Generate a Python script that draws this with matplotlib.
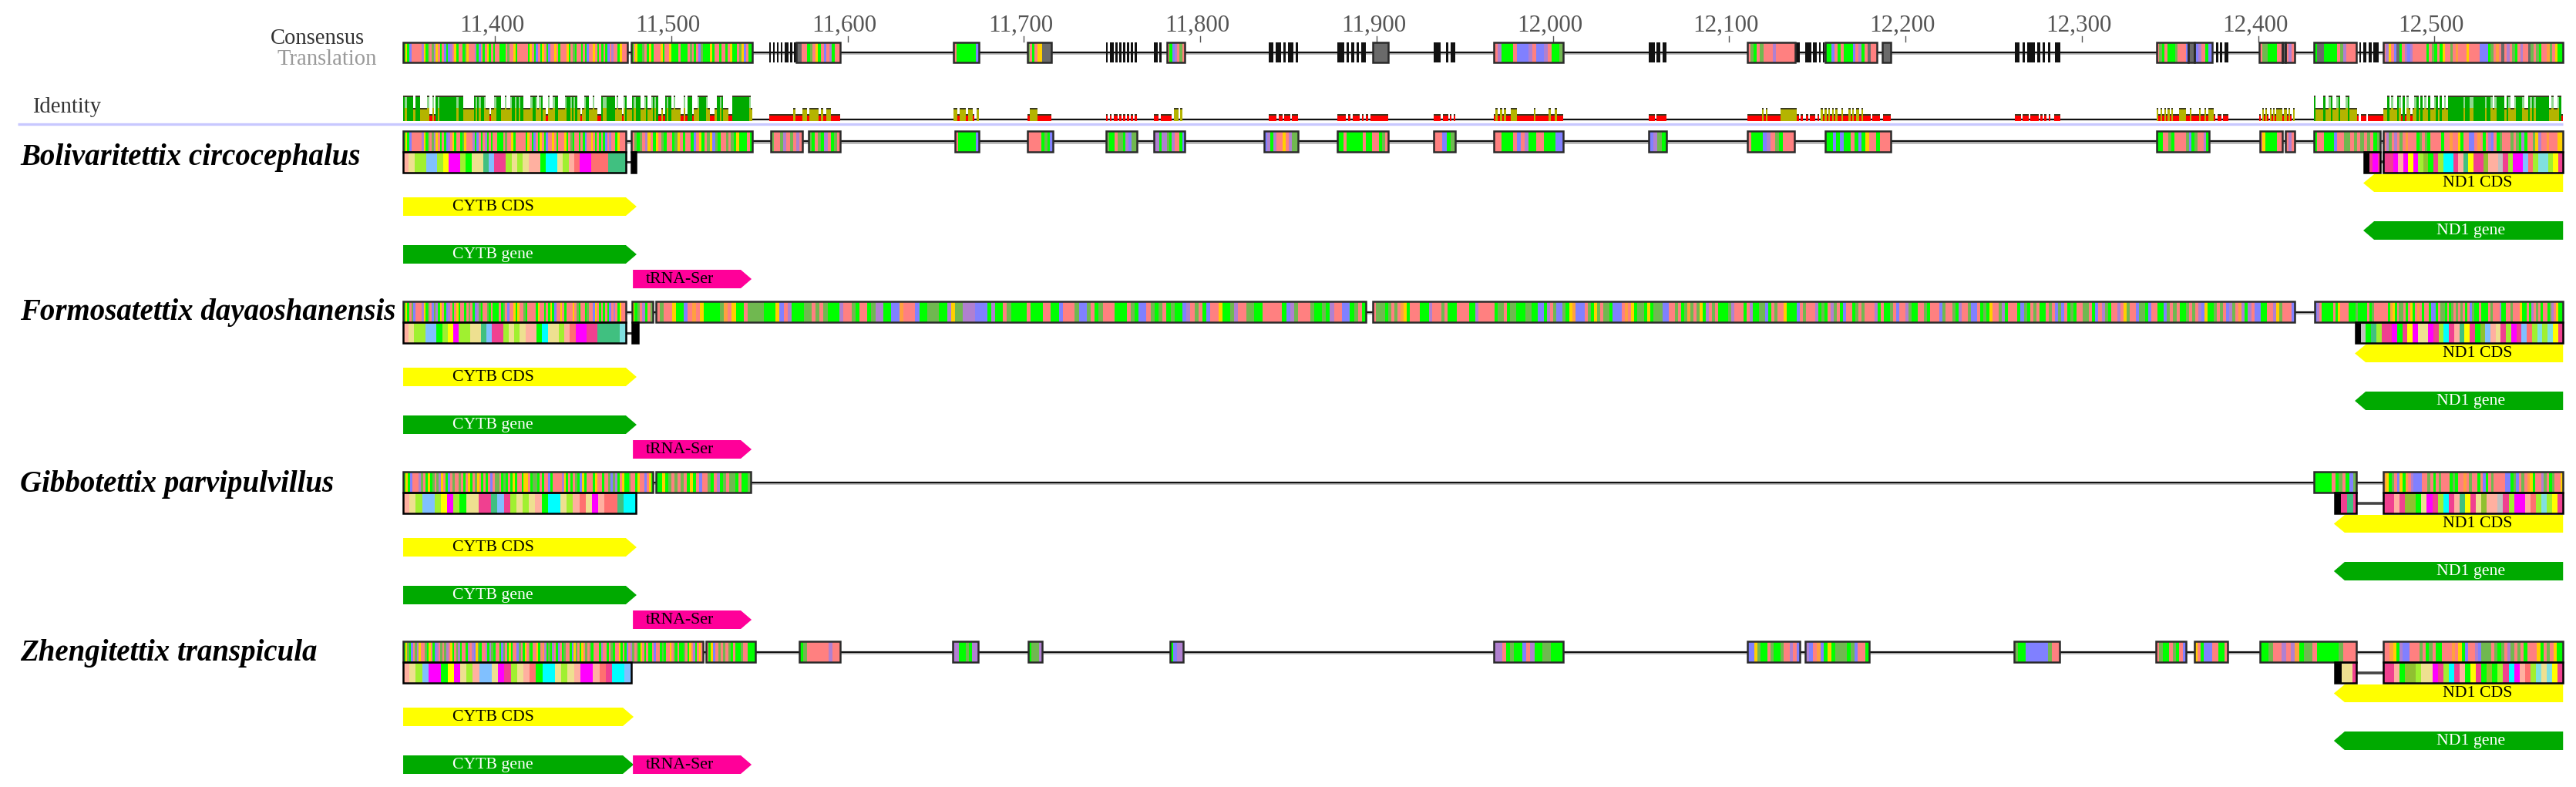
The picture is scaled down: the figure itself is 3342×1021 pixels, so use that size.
import matplotlib
matplotlib.use('Agg')
import matplotlib.pyplot as plt
from matplotlib.patches import Polygon, Rectangle

plt.rcParams['font.family'] = ['Liberation Serif', 'DejaVu Serif']

# ---- data: alignment positions (bp) and base strings ----
tick_positions = [11400, 11500, 11600, 11700, 11800, 11900, 12000, 12100, 12200, 12300, 12400, 12500]
tick_labels = ['11,400', '11,500', '11,600', '11,700', '11,800', '11,900',
               '12,000', '12,100', '12,200', '12,300', '12,400', '12,500']
species = ['Bolivaritettix circocephalus', 'Formosatettix dayaoshanensis',
           'Gibbotettix parvipulvillus', 'Zhengitettix transpicula']

# (start, end, bases) a=salmon c=blue g=yellow t=green o=olive p=purple r=orange n=grey k=black .=gap
consensus = [
    (11348, 11475.4, 'tgtcaaaaapgtoaopgatactcpagtaatogaaaptcatagtataatttaoaagtaaaaatgatcatgatcaagataaagtaotaatatcaagatatatcapaatgaaa'),
    (11477.2, 11546.2, 'tagttoatgtaaagtaagtttatttaoatacotttgtaataatagttaogcatt'),
    (11555.6, 11570.9, 'k.k.k.k.kk.k.k'),
    (11570.9, 11595.8, 'nnaatoagtacaptaa'),
    (11660.1, 11674.5, 'atttttttc'),
    (11702.1, 11715.8, 'oataggnnnn'),
    (11746.5, 11764.1, 'k.kk.k.k.k.k.k.k'),
    (11773.8, 11778.1, 'kk.k'),
    (11781.2, 11791.3, 'atcpaoa'),
    (11838.9, 11855.5, 'kk.kk.k.kk.k'),
    (11877.8, 11894, 'kkk.k.k.k.kk'),
    (11897.9, 11906.7, 'nnnnn'),
    (11932.5, 11944.7, 'kkk..k.kk'),
    (11966.4, 12005.9, 'aptttacccpaccpatto'),
    (12054.4, 12064.5, 'kkk.kk.kk'),
    (12110.4, 12137.3, 'aotaoaaapaaaaaa'),
    (12137.9, 12154.1, 'kk...kkk.kk.k.k'),
    (12154.6, 12183.8, 'ttcatatttcaptanaa'),
    (12186.9, 12191.7, 'nnn'),
    (12262, 12287.9, 'kk.k.kkk.k.k.k..kk'),
    (12342.5, 12360.4, 'aotatttoaaac'),
    (12360.4, 12363.9, 'nn'),
    (12363.9, 12374, 'cpatc'),
    (12376.2, 12383.2, 'k.k.kk'),
    (12400.7, 12413.8, 'aootttaa'),
    (12413.8, 12415.5, 'n'),
    (12415.5, 12420.8, 'apa'),
    (12431.7, 12455.8, 'tnnttttaopaaa'),
    (12457.5, 12468.6, 'k.kk.kk.kkk'),
    (12471, 12573, 'apgacntapcpaaaaataotatgaaoaraaagaaaaccctoaranapaotapaanoaotaaroagtt'),
]
row_a_nuc = [
    (11348, 11474.1, 'tgtcaaaaapgtoaopgatatcpagtaatogaaaptcataptataatttaoaagtaaaaatgatcatgatcaagataaagtaotaatatcaagatatatcapaatgaaa'),
    (11477.5, 11546.2, 'aotoapgatgaotaatogataatcagtaogcotaaoaotgtttat'),
    (11556.5, 11574.4, 'oaaopaoapa'),
    (11577.9, 11595.8, 'otaotpatoa'),
    (11661, 11674.5, 'attttttc'),
    (11702.1, 11716.5, 'aaaaatotc'),
    (11746.8, 11764.1, 'ottaootpcoo'),
    (11773.8, 11791.3, 'pptppotpaatc'),
    (11836.1, 11855.5, 'cptpaagapoo'),
    (11877.8, 11906.7, 'ttatttttattaatoa'),
    (11932.5, 11944.7, 'aacto'),
    (11966.4, 12005.9, 'aatttacapttaatttcc'),
    (12054.4, 12064.5, 'cpot'),
    (12110.4, 12137, 'atttcpaotaaa'),
    (12154.6, 12191.7, 'ttctcttatctgaataaa'),
    (12342.5, 12372.3, 'ttaaotaaaaoctoaapt'),
    (12400.9, 12413.8, 'agttttaa'),
    (12415.5, 12420.8, 'apa'),
    (12431.7, 12469.3, 'taatttcaaooaoaoaoato'),
    (12471, 12573, 'apoapaoaraaatoaotaaaataaraagtaaccaratapcatoaaaoaotptaaogpaaraaagg'),
]
row_b_nuc = [
    (11348, 11474.1, 'tgtaocaaapgtoacoptgatcpatagtaataoatcpotaaotatttatoacaagtgaaotaaaatgaatatgtcaagataaagaotaatoaacgatatatcapatgaa'),
    (11477.8, 11489.6, 'gtoaptao'),
    (11491.4, 11894, 'aoaagttcaragttttoragttaooootttgcaptttooaoaotttpaaotaatoppttccraaacttooottpgoopppccctpttaottttatttaattcaaaoccoatoaaatttaotccaotoatottcpaoatcaagttopaaoottaaaaatcpoaaaottotpaacctoat'),
    (11897.9, 12420.8, 'aoootoaoargtaaatttpaaaoatttaaaattpaaaaatooatootttoottcctpaoccotgrcccaotgoaootcccaragtootgtoooccaaoatoroaogtpaoatttopaaatapttooctaoaagtttcaoaaaptotapoatcaatoaoaaaptattoacaapottaaotaaacoaaotpaaoccatotgaaoptaaatcotaoattaoacocatotaaooatcapotaapagoaacootcaattcoaoattoaoapcgttoaoacpoarptpaccttaapgoaaac'),
    (12432.2, 12573, 'cpatttttatgaaaatttottttatoaaaaaatrgtaooatagtarataatcctaootatoaoaoatacottatttaoaaapttaaoaaagttatpaoataatopagtt'),
]
row_c_nuc = [
    (11348, 11489.8, 'tgtcaaapoatgtoaopgatcaoaaoatagtaogatatacaooatotatgtaatggatootataactaaaapgtataotcgtaaatgaataaocoptagttoaatgaacagt'),
    (11491.4, 11545.1, 'ttgtoaoaoatgtacaaotaptoaootatto'),
    (12431.7, 12455.8, 'tttttatoatco'),
    (12471, 12573, 'rgtoacgtrapcccaaoataoaaatotaaraoaatactaoaaaacctocaoargtaapoatoaag'),
]
row_d_nuc = [
    (11348, 11518, 'tgotcaopgaaotgatcpaoaopagtaoptaatpapcgotaaptpotaatcoatgtaacoatgaotaagtarptotpatcatoaatcgoatgaoaotaaatpaataotaagtatcapoaotgatattacaatotaagaotattoatgaptaga'),
    (11519.6, 11547.8, 'atgcaoaoaotattoaattt'),
    (11572.7, 11595.8, 'toaaaaaapaa'),
    (11659.7, 11674.1, 'ppttotpp'),
    (11702.5, 11710.4, 'toop'),
    (11783, 11790.4, 'tcpp'),
    (11966.6, 12005.7, 'ppatottcapttoottt'),
    (12110.4, 12140.1, 'ccgottaottoaapac'),
    (12143.2, 12179.5, 'pcarctgtoootocaat'),
    (12261.6, 12287.4, 'ottccccccoaa'),
    (12342, 12359.1, 'aottaotac'),
    (12363.9, 12382.7, 'gatcccaatta'),
    (12400.9, 12455.8, 'ttoaapaprtooatttttoaaa'),
    (12471, 12573, 'aargtpccaaaoatoattaaaragtcaapcoooaotoapoaoataaagtaoagtt'),
]

# amino acid strings, one letter per translated stripe
row_a_cytb = [(11348, 11474.1, 'SYLLBBLWMMLGYYTBPPLYLYSSGCCYLSRMMRRRTTT'), (11477.4, 11480, 'K')]
row_b_cytb = [(11348, 11474.1, 'SYLLBBGLWMLLYYTBPPLYLYSSGCYYLSRMMPPTTTTA'), (11477.8, 11481.3, 'K')]
row_c_cytb = [(11348, 11480, 'SYLBBLWMLGYYPPTBPLYLYSGCCYLSRYMSRRTCC')]
row_d_cytb = [(11348, 11477.2, 'SYLBMMGWMYLSBBYMPLYSRGCCYLYSMMSRPCCB')]
row_a_nd1 = [(12460.1, 12469.3, 'KKPMMP'), (12471, 12573, 'PPMSMWMLOGPLCCPSTWPPOSSNPLMMBRLAALWP')]
row_b_nd1 = [(12455.3, 12573, 'KNGTLPPMGPWMYYMPLCPSTWPGOBSYPLMPBRLALAWP')]
row_c_nd1 = [(12443.5, 12455.8, 'KKPPTTP'), (12471, 12573, 'PPSPOOGYMPLCPSTWPYOSSNPLMMSRLALWP')]
row_d_nd1 = [(12443.5, 12455.8, 'KKYYYP'), (12471, 12573, 'PPSGOOLYYMPLCPSGWPGOGLPCMSRLAYAWP')]

nuc_tracks = [row_a_nuc, row_b_nuc, row_c_nuc, row_d_nuc]
cytb_tracks = [row_a_cytb, row_b_cytb, row_c_cytb, row_d_cytb]
nd1_tracks = [row_a_nd1, row_b_nd1, row_c_nd1, row_d_nd1]

cytb_cds_end = [11480.4, 11480.4, 11480.4, 11478.7]
nd1_tip = [12459.7, 12454.9, 12443, 12443]
trna_span = (11478.3, 11545.6)
nd1_end = 12573

# identity heights per column: g=full l=pale full o=middle r=low .=none
identity = [
    (11348, 11546.2, 'glggggogggoooolrrlrglgggggggggglgggooooooglglgglooroolgggooloolgglglggoooolgglolgoorloolggoooolgglglgoorolggooloorrgllgggggoloorlgoooglgggoolgoolglgrrorglggolooorrlrgggroolgggglorrrogglgooorrgggggggggglo'),
    (11555.6, 11595.8, 'rrrrrrrrrrorrrooroooororoorrrr'),
    (11660.1, 11674.5, 'ooroooroor.o'),
    (11702.1, 11715.8, 'roooorrrrrrr'),
    (11746.5, 11764.1, 'r.r.rr.r.r.r.r.r'),
    (11773.8, 11791.3, 'rr.rrrrr.oo.o.'),
    (11838.9, 11855.5, 'rrrr.rr.rrr.rrr'),
    (11877.8, 11906.7, 'rrrr.r.rrr.r.r.rrrrrrrr'),
    (11932.5, 11944.7, 'rrrr.rrr.r.r'),
    (11966.4, 12005.9, 'rorororrooorrrrrrrrorrrrrrorrorrr'),
    (12054.4, 12064.5, 'rrr.rrrrr'),
    (12110.4, 12191.7, 'rrrrrrrrororrrrrrrooooooooor.r..r.rrr.r.orororororrorrrororoororrrr.rrrr..rrrr'),
    (12262, 12287.9, 'rrr.rrr.rrrr.r.r.r..rrr'),
    (12342.5, 12383.2, 'orororororrroooorrorrrrorrorooor.rr.rrr'),
    (12400.7, 12420.8, 'r.oror.ororoooorooror.o'),
    (12431.7, 12471, 'goooogoolgoolgooolgoooor.rrr.rrrrrrrr'),
    (12471, 12573, 'oogolooglrgrlorolgogologoolgogologggggggglggllgggggglgglolggggogloolggglooglglgggggggoloolgr'),
]

# ---- figure, the whole canvas is one axes: x in bp, y in image pixels ----
px_per_bp = 2.2875
x_left = 11400 - 642 / px_per_bp
x_right = 11400 + (3342 - 642) / px_per_bp

base_colors = {'a': '#FF8080', 'c': '#8080FF', 'g': '#FFD000', 't': '#00FF00', 'o': '#70B850',
               'p': '#B080D0', 'r': '#FFA040', 'n': '#6A6A6A', 'k': '#111111'}
aa_colors = {'S': '#FFB0A0', 'Y': '#EEE090', 'B': '#80C0FF', 'M': '#FF00FF', 'P': '#F04090',
             'L': '#A0F030', 'G': '#00FF00', 'W': '#FFFF00', 'T': '#40C080', 'C': '#00FFFF',
             'O': '#90C030', 'A': '#80E0E0', 'N': '#C0C0C0', 'R': '#FF7070', 'K': '#000000'}
ident_tops = {'g': 124, 'l': 124, 'o': 140, 'r': 148}

rows_top = [170, 391, 612, 832]
species_y = [204, 405, 628, 847]
TEXT_GREY = '#555555'

fig = plt.figure(figsize=(33.42, 10.21), dpi=100)
ax = fig.add_axes([0, 0, 1, 1])
ax.set_xlim(x_left, x_right)
ax.set_ylim(1021, 0)
ax.axis('off')


def stripes(segment, top, bottom, colors):
    start, end, letters = segment
    w = (end - start) / len(letters)
    for i, ch in enumerate(letters):
        if ch in colors:
            ax.bar(start + i * w, bottom - top, width=w, bottom=top, align='edge',
                   color=colors[ch], linewidth=0, zorder=3)


def draw_track(track, top, bottom, colors, line_w=1.6, line_c='#111111', edge='#2A2A2A', halo=True):
    y = (top + bottom) / 2
    x0, x1 = track[0][1], track[-1][0]
    if x1 > x0:
        if halo:
            ax.plot([x0, x1], [y + 1.5, y + 1.5], color='#BBBBBB', lw=line_w + 1.2, zorder=1,
                    solid_capstyle='butt')
        ax.plot([x0, x1], [y, y], color=line_c, lw=line_w, zorder=2, solid_capstyle='butt')
    for seg in track:
        stripes(seg, top, bottom, colors)
        # hatched runs have no outline
        if set(seg[2]) & {'k', '.'}:
            continue
        ax.add_patch(Rectangle((seg[0], top), seg[1] - seg[0], bottom - top, fill=False,
                               edgecolor=edge, linewidth=1.8, zorder=4))


def arrow(x0, x1, top, bottom, color, label, label_x, text_color, left=False):
    head = 14 / px_per_bp
    mid = (top + bottom) / 2
    if left:
        pts = [(x1, top), (x0 + head, top), (x0, mid), (x0 + head, bottom), (x1, bottom)]
    else:
        pts = [(x0, top), (x1 - head, top), (x1, mid), (x1 - head, bottom), (x0, bottom)]
    ax.add_patch(Polygon(pts, closed=True, facecolor=color, edgecolor='none', zorder=3))
    ax.text(label_x, mid, label, ha='center', va='center', fontsize=15.7, color=text_color, zorder=5)


# ruler
for pos, lab in zip(tick_positions, tick_labels):
    ax.plot([pos, pos], [47, 54], color=TEXT_GREY, lw=1, zorder=1)
    ax.text(pos - 1.7, 33, lab, ha='center', va='center', fontsize=22.4, color=TEXT_GREY)

px_x = lambda px: x_left + px / px_per_bp
ax.text(px_x(351), 50, 'Consensus', ha='left', va='center', fontsize=20.6, color='#333333')
ax.text(px_x(359), 77, 'Translation', ha='left', va='center', fontsize=20.6, color='#9A9A9A')
ax.text(px_x(42), 139, 'Identity', ha='left', va='center', fontsize=20.6, color='#333333')

# consensus row
draw_track(consensus, 55, 81, base_colors)

# identity graph
ax.plot([11546, 12432], [155.5, 155.5], color='#111111', lw=1.6, zorder=1, solid_capstyle='butt')
for start, end, letters in identity:
    w = (end - start) / len(letters)
    for i, ch in enumerate(letters):
        if ch == '.':
            continue
        x = start + i * w
        top = ident_tops[ch]
        if ch == 'g':
            color = '#00AA00'
        elif ch == 'l':
            color = '#90D890'
        elif ch == 'o':
            color = '#B4B400'
        else:
            color = '#FF0000'
        ax.bar(x, 157 - top, width=w, bottom=top, align='edge', color=color, linewidth=0, zorder=3)
        ax.bar(x, 2, width=w, bottom=top, align='edge', color='#3A3A20', linewidth=0, zorder=4)
        if ch == 'l':
            ax.bar(x, 157 - 140, width=w, bottom=140, align='edge', color='#B4B400', linewidth=0, zorder=4)

# divider under the header
ax.plot([px_x(23), px_x(3325)], [161, 161], color='#C8C8FF', lw=2.4, zorder=2, solid_capstyle='butt')

# species rows
for r, name in enumerate(species):
    top = rows_top[r]
    ax.text(px_x(26), species_y[r], name, ha='left', va='center', fontsize=28,
            fontweight='bold', fontstyle='italic', color='black')

    draw_track(nuc_tracks[r], top, top + 27, base_colors)
    draw_track(cytb_tracks[r], top + 27, top + 54, aa_colors, line_w=2.2, line_c='#333333', edge='#000000', halo=False)
    draw_track(nd1_tracks[r], top + 27, top + 54, aa_colors, line_w=2.6, line_c='#444444', edge='#000000', halo=False)

    cds_y = (top + 86, top + 110)
    gene_y = (top + 148, top + 172)
    nd1_cds_y = (top + 56, top + 79)
    nd1_gene_y = (top + 117, top + 141)
    # last row has the tRNA next to the gene arrow
    trna_y = gene_y if r == 3 else (top + 180, top + 204)

    arrow(11348, cytb_cds_end[r], cds_y[0], cds_y[1], '#FFFF00', 'CYTB CDS', 11399, 'black')
    arrow(11348, cytb_cds_end[r], gene_y[0], gene_y[1], '#00AA00', 'CYTB gene', 11399, 'white')
    arrow(trna_span[0], trna_span[1], trna_y[0], trna_y[1], '#FF0099', 'tRNA-Ser', 11505, 'black')
    arrow(nd1_tip[r], nd1_end, nd1_cds_y[0], nd1_cds_y[1], '#FFFF00', 'ND1 CDS', 12524.6, 'black', left=True)
    arrow(nd1_tip[r], nd1_end, nd1_gene_y[0], nd1_gene_y[1], '#00AA00', 'ND1 gene', 12520.5, 'white', left=True)

fig.savefig('out.png', dpi=100, facecolor='white')
